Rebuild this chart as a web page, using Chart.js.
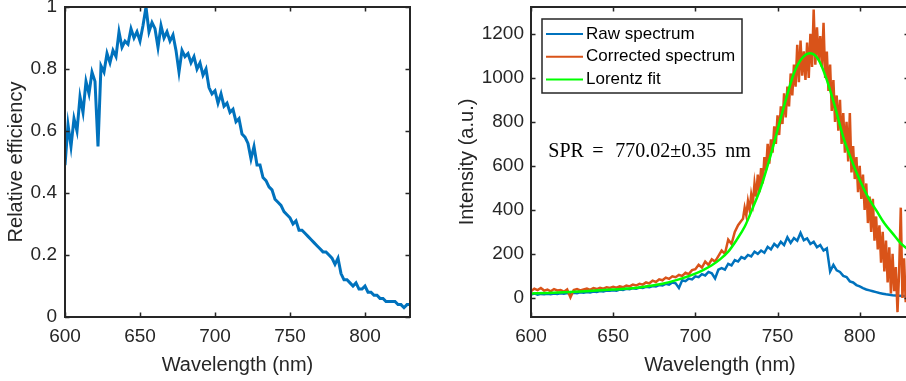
<!DOCTYPE html>
<html>
<head>
<meta charset="utf-8">
<script src="https://cdn.jsdelivr.net/npm/chart.js@4.4.1/dist/chart.umd.min.js"></script>
<style>
  html, body { margin: 0; padding: 0; background: #fff; overflow: hidden; width: 906px; height: 381px; }
  #left { position: absolute; left: 0; top: 0; }
  #right { position: absolute; left: 450px; top: 0; }
</style>
</head>
<body>
<canvas id="left" width="450" height="381"></canvas>
<canvas id="right" width="470" height="381"></canvas>
<script>
// Wavelength grid (nm), read every 2 nm
const wavelength = [
  600, 602, 604, 606, 608, 610, 612, 614, 616, 618, 620, 622, 624, 626, 628, 630, 632, 634, 636, 638,
  640, 642, 644, 646, 648, 650, 652, 654, 656, 658, 660, 662, 664, 666, 668, 670, 672, 674, 676, 678,
  680, 682, 684, 686, 688, 690, 692, 694, 696, 698, 700, 702, 704, 706, 708, 710, 712, 714, 716, 718,
  720, 722, 724, 726, 728, 730, 732, 734, 736, 738, 740, 742, 744, 746, 748, 750, 752, 754, 756, 758,
  760, 762, 764, 766, 768, 770, 772, 774, 776, 778, 780, 782, 784, 786, 788, 790, 792, 794, 796, 798,
  800, 802, 804, 806, 808, 810, 812, 814, 816, 818, 820, 822, 824, 826, 828, 830
];

// Left panel: relative efficiency
const efficiency = [
  0.49, 0.62, 0.55, 0.64, 0.60, 0.71, 0.66, 0.76, 0.72, 0.79, 0.76, 0.55, 0.81, 0.79, 0.85, 0.82, 0.86, 0.84, 0.92, 0.87,
  0.89, 0.88, 0.93, 0.90, 0.92, 0.89, 0.94, 1.00, 0.92, 0.95, 0.93, 0.87, 0.94, 0.90, 0.92, 0.89, 0.91, 0.86, 0.79, 0.86,
  0.84, 0.85, 0.82, 0.84, 0.80, 0.82, 0.78, 0.80, 0.74, 0.72, 0.73, 0.69, 0.72, 0.68, 0.69, 0.66, 0.67, 0.63, 0.64, 0.59,
  0.58, 0.56, 0.51, 0.55, 0.49, 0.49, 0.45, 0.44, 0.42, 0.41, 0.38, 0.37, 0.36, 0.34, 0.33, 0.32, 0.30, 0.31, 0.28, 0.28,
  0.27, 0.26, 0.25, 0.24, 0.23, 0.22, 0.21, 0.21, 0.20, 0.19, 0.17, 0.19, 0.14, 0.12, 0.12, 0.11, 0.10, 0.11, 0.09, 0.09,
  0.10, 0.08, 0.08, 0.07, 0.07, 0.06, 0.06, 0.05, 0.05, 0.05, 0.05, 0.04, 0.04, 0.03, 0.04, 0.04
];

// Right panel: raw spectrum (a.u.) on the 2 nm grid
const rawSpectrum = [
  15, 20, 14, 18, 16, 19, 17, 20, 18, 21, 19, 22, 20, 23, 21, 25, 23, 27, 25, 29,
  27, 31, 29, 33, 32, 35, 33, 38, 36, 41, 39, 44, 42, 47, 45, 50, 48, 54, 52, 58,
  56, 64, 60, 70, 66, 45, 80, 76, 88, 84, 98, 94, 108, 102, 118, 112, 88, 128, 135, 128,
  155, 148, 172, 165, 185, 178, 195, 188, 210, 200, 215, 205, 232, 220, 245, 232, 255, 240, 275, 250,
  272, 260, 295, 262, 270, 245, 255, 230, 240, 215, 225, 120, 150, 125, 118, 100, 95, 75, 70, 58,
  52, 44, 38, 34, 30, 26, 22, 19, 16, 14, 12, 11, 10, 9, 8, 8
];

// Corrected spectrum: 2 nm up to 728, then 1 nm where it gets noisy
const correctedWavelength = [
  600, 602, 604, 606, 608, 610, 612, 614, 616, 618, 620, 622, 624, 626, 628, 630, 632, 634, 636, 638,
  640, 642, 644, 646, 648, 650, 652, 654, 656, 658, 660, 662, 664, 666, 668, 670, 672, 674, 676, 678,
  680, 682, 684, 686, 688, 690, 692, 694, 696, 698, 700, 702, 704, 706, 708, 710, 712, 714, 716, 718,
  720, 722, 724, 726, 728,
  729, 730, 731, 732, 733, 734, 735, 736, 737, 738, 739, 740, 741, 742, 743, 744, 745, 746, 747, 748,
  749, 750, 751, 752, 753, 754, 755, 756, 757, 758, 759, 760, 761, 762, 763, 764, 765, 766, 767, 768,
  769, 770, 771, 772, 773, 774, 775, 776, 777, 778, 779, 780, 781, 782, 783, 784, 785, 786, 787, 788,
  789, 790, 791, 792, 793, 794, 795, 796, 797, 798, 799, 800, 801, 802, 803, 804, 805, 806, 807, 808,
  809, 810, 811, 812, 813, 814, 815, 816, 817, 818, 819, 820, 821, 822, 823, 824, 825, 826, 827, 828,
  829, 830
];
const correctedSpectrum = [
  30, 42, 35, 45, 33, 38, 30, 40, 34, 36, 28, 38, 2, 36, 40, 34, 38, 42, 36, 44,
  40, 46, 42, 48, 45, 50, 46, 52, 48, 56, 52, 60, 56, 64, 60, 70, 66, 78, 72, 84,
  80, 92, 86, 98, 94, 104, 100, 114, 108, 126, 130, 150, 138, 165, 150, 175, 165, 190, 215, 200,
  265, 245, 300, 330, 350,
  360, 410, 375, 440, 400, 470, 430, 520, 460, 560, 480, 590, 520, 640, 580, 700, 610, 720, 660, 780,
  700, 830, 740, 870, 790, 930, 820, 960, 870, 1020, 920, 1060, 960, 1150, 980, 1170, 1010, 1120, 990, 1160,
  1000, 1200, 1050, 1310, 1060, 1230, 1080, 1190, 1050, 1250, 1000, 1120, 940, 1060, 850, 990, 800, 920, 760, 900,
  700, 840, 660, 800, 620, 840, 570, 690, 540, 640, 480, 600, 450, 560, 400, 520, 340, 460, 300, 450,
  260, 370, 220, 330, 160, 300, 120, 260, 70, 230, 20, 200, 30, 140, -65, 120, 410, 0, 180, -20,
  100, 50
];

// Lorentz fit, read every 5-10 nm
const fitWavelength = [600, 610, 620, 630, 640, 650, 660, 670, 680, 690, 700, 705, 710, 715, 720, 725, 730, 735, 740, 745,
  750, 755, 760, 765, 770, 775, 780, 785, 790, 795, 800, 805, 810, 815, 820, 825, 830];
const lorentzFit = [20, 22, 25, 29, 33, 38, 43, 52, 64, 84, 110, 127, 148, 175, 210, 262, 323, 410, 505, 627,
  763, 899, 1021, 1090, 1112, 1082, 991, 868, 731, 627, 536, 459, 399, 339, 293, 248, 217];

// Tick labels
const xTicks = [600, 650, 700, 750, 800];
const effTicks = [0, 0.2, 0.4, 0.6, 0.8, 1];
const intensityTicks = [0, 200, 400, 600, 800, 1000, 1200];
const legendLabels = ['Raw spectrum', 'Corrected spectrum', 'Lorentz fit'];

const axisColor = '#262626';
const blue = '#0072BD';
const orange = '#D95319';
const green = '#00FF00';
const sans = "'Liberation Sans', Arial, sans-serif";

Chart.defaults.font.family = sans;
Chart.defaults.color = axisColor;

const toXY = (xs, ys) => xs.map((x, i) => ({ x: x, y: ys[i] }));

// MATLAB-like box with inward ticks on all four sides
const boxPlugin = {
  id: 'matlabBox',
  afterDraw(chart) {
    const { ctx, chartArea: a, scales } = chart;
    ctx.save();
    ctx.strokeStyle = axisColor;
    ctx.lineWidth = 1.5;
    ctx.beginPath();
    scales.x.ticks.forEach(t => {
      const px = Math.round(scales.x.getPixelForValue(t.value)) + 0.5;
      ctx.moveTo(px, a.bottom); ctx.lineTo(px, a.bottom - 4.5);
      ctx.moveTo(px, a.top); ctx.lineTo(px, a.top + 4.5);
    });
    scales.y.ticks.forEach(t => {
      const py = Math.round(scales.y.getPixelForValue(t.value)) + 0.5;
      ctx.moveTo(a.left, py); ctx.lineTo(a.left + 4.5, py);
      ctx.moveTo(a.right, py); ctx.lineTo(a.right - 4.5, py);
    });
    ctx.stroke();
    ctx.lineWidth = 2;
    ctx.strokeRect(a.left, a.top, a.right - a.left, a.bottom - a.top);
    ctx.restore();
  }
};

// legend box inside the axes + SPR annotation
const annotPlugin = {
  id: 'annot',
  afterDraw(chart) {
    const { ctx, chartArea: a, scales } = chart;
    ctx.save();
    const bx = a.left + 11, by = a.top + 12, bw = 200, bh = 74;
    ctx.fillStyle = '#fff';
    ctx.fillRect(bx, by, bw, bh);
    ctx.strokeStyle = axisColor;
    ctx.lineWidth = 1.5;
    ctx.strokeRect(bx, by, bw, bh);
    ctx.font = '17px ' + sans;
    ctx.textBaseline = 'middle';
    const colors = [blue, orange, green];
    legendLabels.forEach((lab, i) => {
      const y = by + 15 + i * 22.7;
      ctx.strokeStyle = colors[i];
      ctx.lineWidth = 2;
      ctx.beginPath();
      ctx.moveTo(bx + 4, y); ctx.lineTo(bx + 41, y);
      ctx.stroke();
      ctx.fillStyle = '#000';
      ctx.fillText(lab, bx + 44, y);
    });

    // SPR text at data position
    const tx = scales.x.getPixelForValue(610.5);
    const ty = scales.y.getPixelForValue(663);
    ctx.font = "20px 'Liberation Serif', 'Times New Roman', serif";
    ctx.fillStyle = '#000';
    ctx.fillText('SPR', tx, ty);
    ctx.fillText('=', tx + 44, ty);
    ctx.fillText('770.02\u00B10.35', tx + 67, ty);
    ctx.fillText('nm', tx + 177, ty);
    ctx.restore();
  }
};

function axisOpts(min, max, tickVals, title, size, tickPad, titlePad) {
  return {
    type: 'linear',
    min: min,
    max: max,
    afterBuildTicks: s => { s.ticks = tickVals.map(v => ({ value: v })); },
    afterFit: s => {
      if (s.isHorizontal()) s.height = size; else s.width = size;
      s.paddingTop = 0; s.paddingBottom = 0; s.paddingLeft = 0; s.paddingRight = 0;
    },
    grid: { display: false, drawTicks: false },
    border: { display: false },
    ticks: { padding: tickPad, color: axisColor, font: { size: 19 }, callback: v => String(v), autoSkip: false, maxRotation: 0 },
    title: { display: true, text: title, color: axisColor, font: { size: 20 }, padding: titlePad }
  };
}

new Chart(document.getElementById('left').getContext('2d'), {
  type: 'line',
  data: {
    datasets: [{
      label: 'Relative efficiency',
      data: toXY(wavelength, efficiency),
      borderColor: blue,
      borderWidth: 3,
      pointRadius: 0,
      tension: 0,
      clip: 0
    }]
  },
  options: {
    responsive: false,
    animation: false,
    devicePixelRatio: 1,
    layout: { padding: { left: 0, top: 7, right: 40, bottom: 0 } },
    plugins: { legend: { display: false }, tooltip: { enabled: false } },
    scales: {
      x: axisOpts(600, 830, xTicks, 'Wavelength (nm)', 64, 8, { top: 0, bottom: 4 }),
      y: axisOpts(0, 1, effTicks, 'Relative efficiency', 65, 8, { top: 4, bottom: 0 })
    }
  },
  plugins: [boxPlugin]
});

new Chart(document.getElementById('right').getContext('2d'), {
  type: 'line',
  data: {
    datasets: [
      { label: legendLabels[0], data: toXY(wavelength, rawSpectrum), borderColor: blue, borderWidth: 2.5, pointRadius: 0, tension: 0, order: 2, clip: 0 },
      { label: legendLabels[1], data: toXY(correctedWavelength, correctedSpectrum), borderColor: orange, borderWidth: 2.5, pointRadius: 0, tension: 0, order: 1, clip: 0 },
      { label: legendLabels[2], data: toXY(fitWavelength, lorentzFit), borderColor: green, borderWidth: 2.5, pointRadius: 0, cubicInterpolationMode: 'monotone', order: 0, clip: 0 }
    ]
  },
  options: {
    responsive: false,
    animation: false,
    devicePixelRatio: 1,
    layout: { padding: { left: 0, top: 7, right: 11, bottom: 0 } },
    plugins: { legend: { display: false }, tooltip: { enabled: false } },
    scales: {
      x: axisOpts(600, 830, xTicks, 'Wavelength (nm)', 64, 8, { top: 0, bottom: 4 }),
      y: axisOpts(-87, 1322, intensityTicks, 'Intensity (a.u.)', 81, 7, { top: 5, bottom: 0 })
    }
  },
  plugins: [boxPlugin, annotPlugin]
});
</script>
</body>
</html>
